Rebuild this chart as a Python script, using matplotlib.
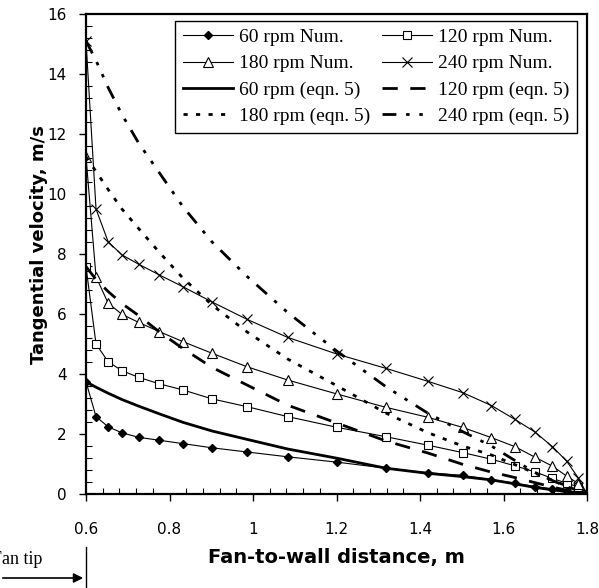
import matplotlib
matplotlib.use("Agg")
import matplotlib.pyplot as plt
from matplotlib.ticker import MultipleLocator, FuncFormatter
from matplotlib.lines import Line2D

plt.rcParams['lines.scale_dashes'] = False

# fan-to-wall distance (m), same grid for all series
dist = [0.6, 0.624, 0.653, 0.686, 0.726, 0.776, 0.832, 0.902, 0.986, 1.083, 1.202,
        1.318, 1.418, 1.502, 1.571, 1.627, 1.675, 1.717, 1.751, 1.779, 1.8]

# numerical results, tangential velocity (m/s)
num_60 = [3.74, 2.58, 2.24, 2.04, 1.89, 1.79, 1.68, 1.54, 1.4, 1.24, 1.06,
          0.86, 0.71, 0.62, 0.48, 0.36, 0.25, 0.17, 0.11, 0.06, 0]
num_120 = [7.58, 5.0, 4.41, 4.11, 3.89, 3.67, 3.47, 3.17, 2.91, 2.58, 2.22,
           1.91, 1.63, 1.38, 1.16, 0.94, 0.74, 0.52, 0.36, 0.24, 0]
num_180 = [11.24, 7.24, 6.36, 5.99, 5.72, 5.41, 5.08, 4.69, 4.24, 3.8, 3.33,
           2.89, 2.56, 2.22, 1.88, 1.58, 1.23, 0.93, 0.6, 0.35, 0]
num_240 = [15.1, 9.5, 8.41, 7.97, 7.66, 7.3, 6.91, 6.4, 5.82, 5.22, 4.66,
           4.19, 3.76, 3.38, 2.95, 2.49, 2.07, 1.58, 1.1, 0.54, 0]

# eqn. 5
eq_60 = [3.74, 3.56, 3.36, 3.15, 2.93, 2.67, 2.39, 2.1, 1.82, 1.5, 1.19,
         0.86, 0.69, 0.58, 0.47, 0.34, 0.22, 0.14, 0.08, 0.03, 0]
eq_120 = [7.58, 7.15, 6.75, 6.35, 5.95, 5.4, 4.85, 4.22, 3.63, 2.96, 2.36,
          1.77, 1.37, 0.99, 0.73, 0.55, 0.38, 0.23, 0.13, 0.05, 0]
eq_180 = [11.24, 10.75, 10.15, 9.5, 8.85, 8.05, 7.2, 6.3, 5.4, 4.5, 3.6,
          2.7, 2.05, 1.6, 1.3, 0.98, 0.7, 0.46, 0.27, 0.1, 0]
eq_240 = [15.1, 14.45, 13.55, 12.65, 11.7, 10.7, 9.58, 8.4, 7.25, 6.05, 4.75,
          3.58, 2.7, 2.08, 1.6, 1.12, 0.72, 0.45, 0.25, 0.1, 0]

fig = plt.figure(figsize=(5.99, 5.88), dpi=100)
ax = fig.add_axes([86/599, 1-494/588, 501/599, 480/588])

thin = 0.8
thick = 2.0
h1, = ax.plot(dist, num_60, '-', c='k', lw=thin, marker='D', ms=4.5, mfc='k', mec='k',
              label='60 rpm Num.')
h2, = ax.plot(dist, num_120, '-', c='k', lw=thin, marker='s', ms=5.5, mfc='white', mec='k',
              mew=0.8, label='120 rpm Num.')
h3, = ax.plot(dist, num_180, '-', c='k', lw=thin, marker='^', ms=7, mfc='white', mec='k',
              mew=0.8, label='180 rpm Num.')
h4, = ax.plot(dist, num_240, '-', c='k', lw=thin, marker='x', ms=7, mec='k',
              mew=0.8, label='240 rpm Num.')
h5, = ax.plot(dist, eq_60, '-', c='k', lw=thick, label='60 rpm (eqn. 5)')
h6, = ax.plot(dist, eq_120, c='k', lw=thick, dashes=(11, 9), label='120 rpm (eqn. 5)')
h7, = ax.plot(dist, eq_180, c='k', lw=thick, dashes=(3, 6), label='180 rpm (eqn. 5)')
h8, = ax.plot(dist, eq_240, c='k', lw=thick, dashes=(10, 7, 2.5, 7, 2.5, 7),
              label='240 rpm (eqn. 5)')

ax.set_xlim(0.6, 1.8)
ax.set_ylim(0, 16)
ax.xaxis.set_major_locator(MultipleLocator(0.2))
ax.xaxis.set_minor_locator(MultipleLocator(0.04))
ax.yaxis.set_major_locator(MultipleLocator(2))
ax.yaxis.set_minor_locator(MultipleLocator(0.4))
ax.xaxis.set_major_formatter(FuncFormatter(lambda v, p: '%g' % round(v, 2)))
ax.tick_params(which='major', direction='out', length=5, width=1, labelsize=11)
ax.tick_params(axis='x', which='major', pad=15)
ax.tick_params(axis='y', which='major', pad=9)
ax.tick_params(which='minor', direction='in', length=4, width=0.8)
for s in ax.spines.values():
    s.set_linewidth(1.6)

ax.set_xlabel('Fan-to-wall distance, m', fontsize=14, fontweight='bold')
ax.xaxis.set_label_coords(0.5, -0.112)
ax.set_ylabel('Tangential velocity, m/s', fontsize=13, fontweight='bold')
ax.yaxis.set_label_coords(-0.094, 0.52)
ax.yaxis.label.set_va('center')

# legend filled row by row like the original
handles = [h1, h3, h5, h7, h2, h4, h6, h8]
leg = ax.legend(handles=handles, labels=[h.get_label() for h in handles], ncol=2,
                loc='upper right', bbox_to_anchor=(0.981, 0.986), borderaxespad=0,
                prop={'family': 'Liberation Serif', 'size': 14}, frameon=True,
                fancybox=False, edgecolor='k', framealpha=1, handlelength=2.6,
                handletextpad=0.3, columnspacing=0.6, labelspacing=0.45,
                borderpad=0.4)
leg.get_frame().set_linewidth(1.0)

# fan tip marker below the axis (text runs off the left edge as in the original)
fig.text(42/599, 1-560/588, 'Fan tip', ha='right', va='center',
         family='Liberation Serif', fontsize=13)
fig.add_artist(Line2D([86/599, 86/599], [0, 1-547/588], color='k', lw=1))
ax.annotate('', xy=(86/599, 1-578/588), xytext=(0, 1-578/588),
            xycoords='figure fraction', textcoords='figure fraction',
            arrowprops=dict(arrowstyle='-|>', color='k', lw=1.2, mutation_scale=14),
            annotation_clip=False)

fig.savefig('out.png', dpi=100)
